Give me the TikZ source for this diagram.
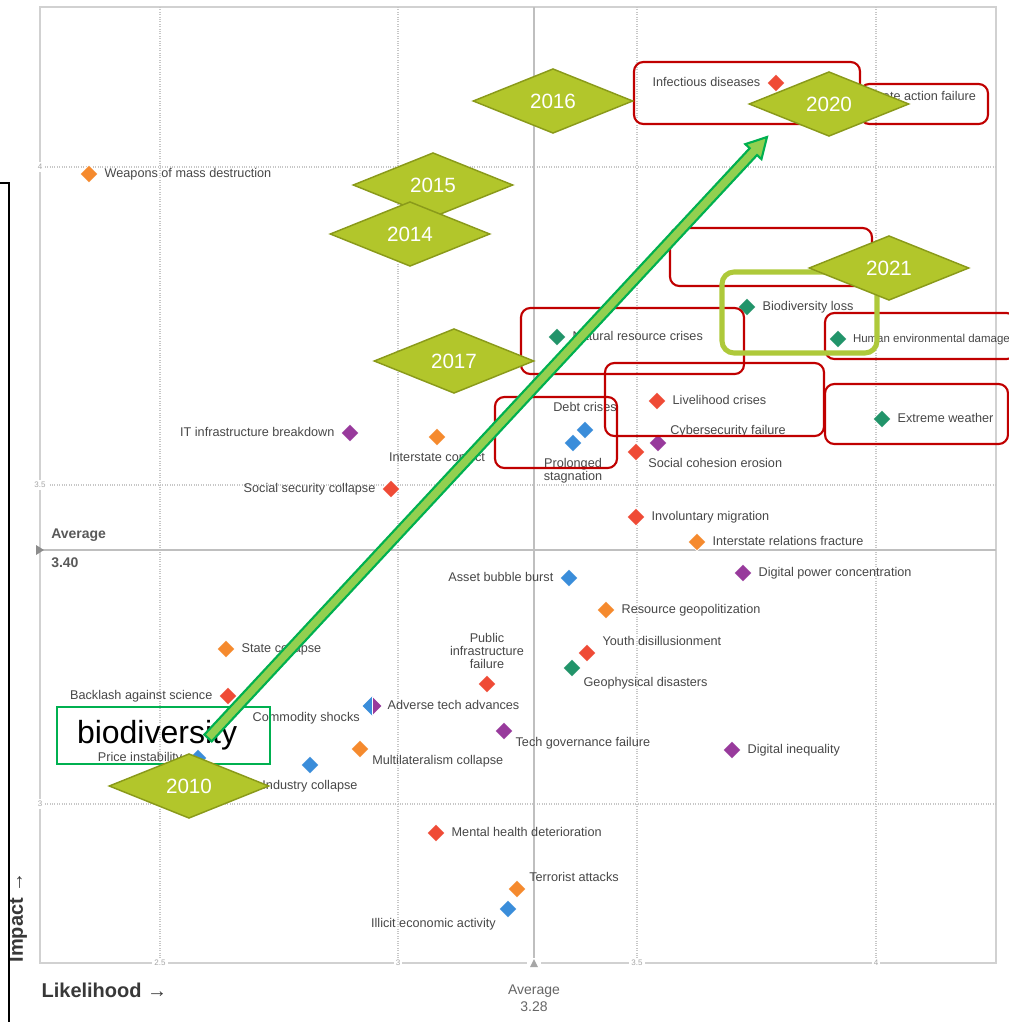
\documentclass[tikz,border=0pt]{standalone}
\usepackage{fontspec}
\setmainfont{Liberation Sans}
\usetikzlibrary{positioning,shapes.geometric,calc}

\definecolor{orng}{HTML}{F58A2E}
\definecolor{rd}{HTML}{EF4B36}
\definecolor{grn}{HTML}{22946A}
\definecolor{blu}{HTML}{3A8DDA}
\definecolor{prp}{HTML}{983A9C}
\definecolor{olive}{HTML}{B2C62B}
\definecolor{oliveline}{HTML}{8A9A1A}
\definecolor{boxred}{HTML}{C00000}
\definecolor{limebox}{HTML}{AEC93A}
\definecolor{arrowfill}{HTML}{92D050}
\definecolor{arrowline}{HTML}{00B050}

\begin{document}
\begin{tikzpicture}[x=0.75pt,y=-0.75pt,
    mk/.style={diamond,minimum size=13.5pt,inner sep=0pt,draw=white,line width=0.6pt},
    lbl/.style={font=\fontsize{9.5}{10}\selectfont,text=black!72,inner sep=1pt,text height=7pt,text depth=2pt},
    mlbl/.style={font=\fontsize{9.5}{10}\selectfont,text=black!72,inner sep=1pt,align=center},
    tick/.style={font=\fontsize{6}{7}\selectfont,text=black!35,fill=white,inner sep=1.5pt},
    grid/.style={black!22,densely dotted,line width=0.8pt},
    avgline/.style={black!25,line width=1.2pt},
    year/.style={diamond,fill=olive,draw=oliveline,line width=1.1pt,minimum width=120pt,minimum height=48.5pt,inner sep=0pt,text=white,font=\fontsize{15.5}{18}\selectfont},
    redbox/.style={draw=boxred,line width=1.6pt,rounded corners=7pt}]
    \path[use as bounding box,clip] (0,0) rectangle (1009,1022);

    % chart frame and grid
    \draw[black!18,line width=1.5pt] (40,7) rectangle (996,963);
    \foreach \gx in {160,398,637,876} \draw[grid] (\gx,7) -- (\gx,963);
    \foreach \gy in {167,485,804} \draw[grid] (40,\gy) -- (996,\gy);
    \draw[avgline] (534,7) -- (534,963);
    \draw[avgline] (40,550) -- (996,550);

    \node[tick] (ty4) at (40,167) {4};
    \node[tick] (ty35) at (40,485) {3.5};
    \node[tick] (ty3) at (40,804) {3};
    \node[tick] (tx25) at (160,963) {2.5};
    \node[tick] (tx3) at (398,963) {3};
    \node[tick] (tx35) at (637,963) {3.5};
    \node[tick] (tx4) at (876,963) {4};
    \fill[white] (527,958) rectangle (541,969);
    \fill[black!35] (530,967) -- (534,959) -- (538,967) -- cycle;
    \fill[black!45] (36,545) -- (44,550) -- (36,555) -- cycle;

    \node[font=\bfseries\fontsize{10.5}{12}\selectfont,text=black!65,anchor=west,inner sep=0pt] (avgy) at (51,535) {Average};
    \node[font=\bfseries\fontsize{10.5}{12}\selectfont,text=black!65,anchor=west,inner sep=0pt] (avgyv) at (51,563) {3.40};
    \node[font=\fontsize{10.5}{13}\selectfont,text=black!60,align=center,inner sep=0pt] (avgx) at (534,998) {Average\\3.28};
    \node[font=\bfseries\fontsize{15}{18}\selectfont,text=black!78,anchor=west,inner sep=1pt] (lik) at (40,990) {Likelihood →};
    \node[font=\bfseries\fontsize{15}{18}\selectfont,text=black!78,anchor=west,inner sep=1pt,rotate=90] (imp) at (18,964) {Impact →};

    \draw[line width=1.5pt] (0,183) -- (9,183) -- (9,1022);

    % risks
    \node[mk,fill=orng] (wmd) at (89,174) {};
    \node[lbl,right=3.5pt of wmd] (wmdl) {Weapons of mass destruction};
    \node[mk,fill=rd] (inf) at (776,83) {};
    \node[lbl,left=3.5pt of inf] (infl) {Infectious diseases};
    \node[mk,fill=grn] (cli) at (842,97) {};
    \node[lbl,right=3.5pt of cli] (clil) {Climate action failure};
    \node[mk,fill=grn] (bdl) at (747,307) {};
    \node[lbl,right=3.5pt of bdl] (bdll) {Biodiversity loss};
    \node[mk,fill=grn] (hed) at (838,339) {};
    \node[lbl,right=3pt of hed,font=\fontsize{8.6}{10}\selectfont] (hedl) {Human environmental damage};
    \node[mk,fill=grn] (nrc) at (557,337) {};
    \node[lbl,right=3.5pt of nrc] (nrcl) {Natural resource crises};
    \node[mk,fill=rd] (lvh) at (657,401) {};
    \node[lbl,right=3.5pt of lvh] (lvhl) {Livelihood crises};
    \node[mk,fill=rd] (sce) at (636,452) {};
    \node[lbl,below right=0pt and 4.5pt of sce] (scel) {Social cohesion erosion};
    \node[mk,fill=prp] (cyb) at (658,443) {};
    \node[lbl,above right=0pt and 4.5pt of cyb] (cybl) {Cybersecurity failure};
    \node[mk,fill=grn] (exw) at (882,419) {};
    \node[lbl,right=3.5pt of exw] (exwl) {Extreme weather};
    \node[mk,fill=blu] (pst) at (573,443) {};
    \node[mlbl,below=3pt of pst] (pstl) {Prolonged\\stagnation};
    \node[mk,fill=blu] (dbt) at (585,430) {};
    \node[lbl,above=3.5pt of dbt] (dbtl) {Debt crises};
    \node[mk,fill=prp] (itb) at (350,433) {};
    \node[lbl,left=3.5pt of itb] (itbl) {IT infrastructure breakdown};
    \node[mk,fill=orng] (isc) at (437,437) {};
    \node[lbl,below=3pt of isc] (iscl) {Interstate conflict};
    \node[mk,fill=rd] (ssc) at (391,489) {};
    \node[lbl,left=3.5pt of ssc] (sscl) {Social security collapse};
    \node[mk,fill=rd] (ivm) at (636,517) {};
    \node[lbl,right=3.5pt of ivm] (ivml) {Involuntary migration};
    \node[mk,fill=orng] (irf) at (697,542) {};
    \node[lbl,right=3.5pt of irf] (irfl) {Interstate relations fracture};
    \node[mk,fill=blu] (abb) at (569,578) {};
    \node[lbl,left=3.5pt of abb] (abbl) {Asset bubble burst};
    \node[mk,fill=prp] (dpc) at (743,573) {};
    \node[lbl,right=3.5pt of dpc] (dpcl) {Digital power concentration};
    \node[mk,fill=orng] (rgp) at (606,610) {};
    \node[lbl,right=3.5pt of rgp] (rgpl) {Resource geopolitization};
    \node[mk,fill=rd] (yth) at (587,653) {};
    \node[lbl,above right=-1pt and 7pt of yth] (ythl) {Youth disillusionment};
    \node[mk,fill=grn] (geo) at (572,668) {};
    \node[lbl,below right=2pt and 4pt of geo] (geol) {Geophysical disasters};
    \node[mk,fill=rd] (pif) at (487,684) {};
    \node[mlbl,above=3pt of pif] (pifl) {Public\\infrastructure\\failure};
    \node[mk,fill=orng] (stc) at (226,649) {};
    \node[lbl,right=3.5pt of stc] (stcl) {State collapse};
    \node[mk,fill=rd] (bas) at (228,696) {};
    \node[lbl,left=3.5pt of bas] (basl) {Backlash against science};
    \node[mk] (ata) at (372,706) {};
    \fill[blu] (ata.west) -- (ata.north) -- (ata.south) -- cycle;
    \fill[prp] (ata.east) -- (ata.north) -- (ata.south) -- cycle;
    \draw[white,line width=0.6pt] (ata.north) -- (ata.south);
    \node[lbl,right=3.5pt of ata] (atal) {Adverse tech advances};
    \node[lbl,below left=0pt and 4.5pt of ata] (cmsl) {Commodity shocks};
    \node[mk,fill=orng] (mlc) at (360,749) {};
    \node[lbl,below right=0pt and 4.5pt of mlc] (mlcl) {Multilateralism collapse};
    \node[mk,fill=prp] (tgf) at (504,731) {};
    \node[lbl,below right=0pt and 4pt of tgf] (tgfl) {Tech governance failure};
    \node[mk,fill=prp] (dgi) at (732,750) {};
    \node[lbl,right=3.5pt of dgi] (dgil) {Digital inequality};
    \node[mk,fill=blu] (pri) at (198,758) {};
    \node[lbl,left=3.5pt of pri] (pril) {Price instability};
    \node[mk,fill=blu] (inc) at (310,765) {};
    \node[lbl,below=3pt of inc] (incl) {Industry collapse};
    \node[mk,fill=rd] (mhd) at (436,833) {};
    \node[lbl,right=3.5pt of mhd] (mhdl) {Mental health deterioration};
    \node[mk,fill=orng] (ter) at (517,889) {};
    \node[lbl,above right=-1pt and 4.5pt of ter] (terl) {Terrorist attacks};
    \node[mk,fill=blu] (ill) at (508,909) {};
    \node[lbl,below left=2pt and 4.5pt of ill] (illl) {Illicit economic activity};

    % highlight boxes
    \draw[redbox] (634,62) rectangle (860,124);
    \draw[redbox] (860,84) rectangle (988,124);
    \draw[redbox] (670,228) rectangle (872,286);
    \draw[redbox] (521,308) rectangle (744,374);
    \draw[redbox] (605,363) rectangle (824,436);
    \draw[redbox] (495,397) rectangle (617,468);
    \draw[redbox] (825,313) rectangle (1016,359);
    \draw[redbox] (825,384) rectangle (1008,444);
    \draw[limebox,line width=3.8pt,rounded corners=9pt] (722,272) rectangle (877,353);

    \node[draw=arrowline,line width=1.2pt,minimum width=159.75pt,minimum height=42.75pt,text width=129.75pt,inner xsep=15pt,align=left,font=\fontsize{24}{28}\selectfont] (bio) at (163.5,735.5) {biodiversity};

    % years
    \node[year] (y2016) at (553,101) {2016};
    \node[year] (y2015) at (433,185) {2015};
    \node[year] (y2014) at (410,234) {2014};
    \node[year] (y2017) at (454,361) {2017};
    \node[year] (y2020) at (829,104) {2020};
    \node[year] (y2021) at (889,268) {2021};
    \node[year] (y2010) at (189,786) {2010};

    % trend arrow
    \coordinate (tail) at (208,738);
    \coordinate (tip) at (767,137);
    \coordinate (neck) at ($(tip)!15pt!(tail)$);
    \draw[fill=arrowfill,draw=arrowline,line width=1.6pt,line join=miter]
        ($(tail)!3.75pt!90:(tip)$) -- ($(neck)!3.75pt!90:(tip)$) -- ($(neck)!8.25pt!90:(tip)$)
        -- (tip) -- ($(neck)!8.25pt!-90:(tip)$) -- ($(neck)!3.75pt!-90:(tip)$)
        -- ($(tail)!3.75pt!-90:(tip)$) -- cycle;
\end{tikzpicture}
\end{document}
